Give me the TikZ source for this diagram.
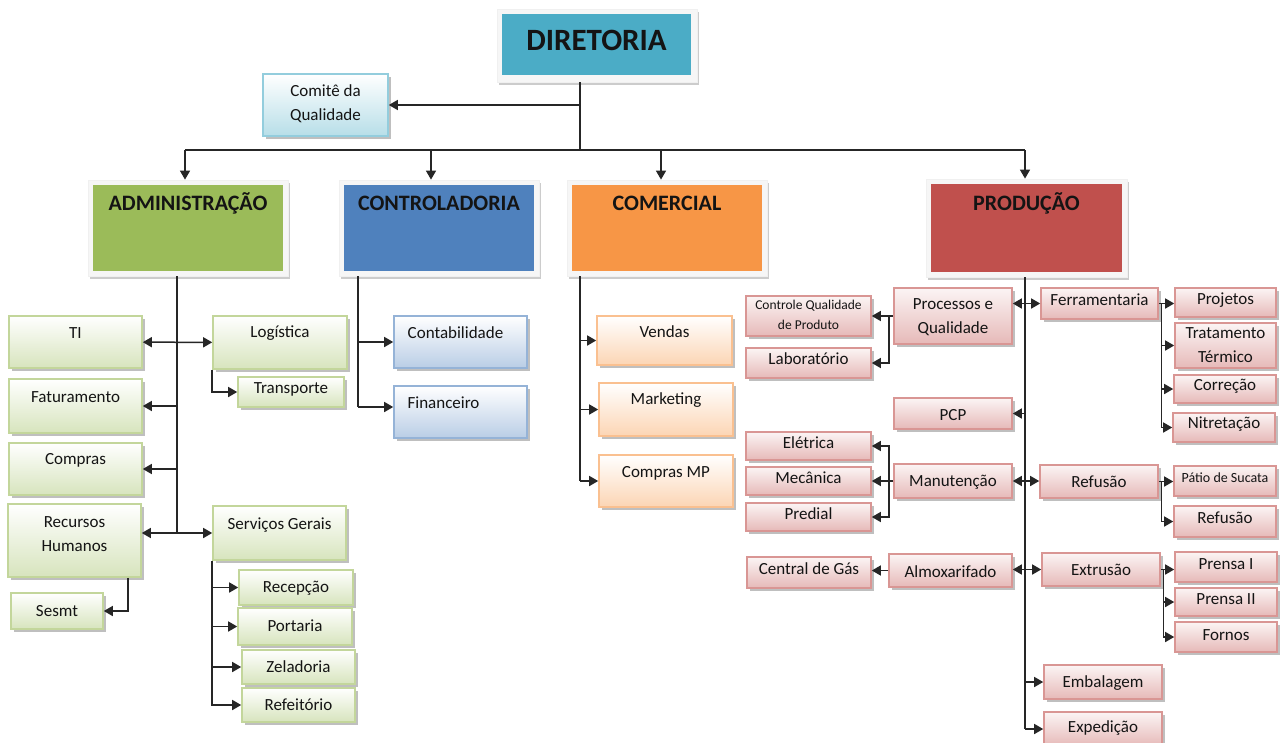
\documentclass[tikz,border=0pt]{standalone}
\usepackage{fontspec}
\setmainfont{Carlito}
\usetikzlibrary{arrows.meta,shadows,fit,calc}

\definecolor{dirC}{HTML}{4BACC6}
\definecolor{admC}{HTML}{9BBB59}
\definecolor{ctlC}{HTML}{4F81BD}
\definecolor{comC}{HTML}{F79646}
\definecolor{prdC}{HTML}{C0504D}
\definecolor{grnB}{HTML}{C3D69B}
\definecolor{grnF}{HTML}{D7E4BD}
\definecolor{bluB}{HTML}{95B3D7}
\definecolor{bluF}{HTML}{B9CDE5}
\definecolor{orgB}{HTML}{FAC090}
\definecolor{orgF}{HTML}{FCD5B4}
\definecolor{redB}{HTML}{D99694}
\definecolor{redF}{HTML}{E6B9B8}
\definecolor{cyaB}{HTML}{93CDDD}
\definecolor{cyaF}{HTML}{B7DEE8}

\tikzset{
  box/.style={inner sep=0pt, line width=1.6pt,
    drop shadow={shadow xshift=2.5pt, shadow yshift=-3pt, fill=black, opacity=.25}},
  gbox/.style={box, draw=grnB, top color=white, bottom color=grnF},
  bbox/.style={box, draw=bluB, top color=white, bottom color=bluF},
  obox/.style={box, draw=orgB, top color=white, bottom color=orgF},
  rbox/.style={box, draw=redB, top color=white!85!redF, bottom color=redF},
  cbox/.style={box, draw=cyaB, top color=white, bottom color=cyaF},
  hframe/.style={inner sep=0pt, fill=gray!7, draw=gray!12, line width=.8pt,
    drop shadow={shadow xshift=2pt, shadow yshift=-3pt, fill=black, opacity=.2}},
  hfill/.style={inner sep=0pt, fill=#1},
  txt/.style={inner sep=0pt, font=\fontsize{17}{24}\selectfont, text=black!92, align=center},
  small/.style={txt, font=\fontsize{13.5}{20}\selectfont},
  head/.style={inner sep=0pt, font=\bfseries\fontsize{22}{26}\selectfont, text=black!92},
  link/.style={line width=1.5pt, draw=black!85},
  arr/.style={link, -{Triangle[length=9pt,width=10pt]}},
  darr/.style={link, {Triangle[length=9pt,width=10pt]}-{Triangle[length=9pt,width=10pt]}},
}

% box: style, name, x1, y1, x2, y2, text style, text y, text
\newcommand\bx[9]{%
  \node[#1, fit={(#3,#4) (#5,#6)}] (#2) {};
  \node[#7] (#2-t) at (#2.center |- 0,#8) {#9};}

% header: colour, name, frame x1,y1,x2,y2, inset, text
\newcommand\hd[8]{%
  \node[hframe, fit={(#3,#4) (#5,#6)}] (#2f) {};
  \node[hfill=#1, fit={($(#3,#4)+(#7,#7)$) ($(#5,#6)+(-#7,-#7)$)}] (#2) {};
  \node[head] (#2-t) at (#2.center |- 0,203) {#8};}

\begin{document}
\begin{tikzpicture}[x=1pt,y=-1pt]
\fill[white] (0,0) rectangle (1281,742);
\useasboundingbox (0,0) rectangle (1281,742);

% ---------- top level ----------
\node[hframe, fit={(497,9) (697,82)}] (dirf) {};
\node[hfill=dirC, fit={(502,14) (691,75)}] (dir) {};
\node[head, font=\bfseries\fontsize{31}{36}\selectfont] (dir-t) at (dir.center |- 0,40) {DIRETORIA};

\bx{cbox}{comq}{263}{74}{388}{136}{txt}{104}{Comitê da\\Qualidade}

\hd{admC}{adm}{88}{180}{288}{276}{5}{ADMINISTRAÇÃO}
\hd{ctlC}{ctl}{339}{180}{539}{276}{5}{CONTROLADORIA}
\hd{comC}{com}{567}{180}{767}{276}{5}{COMERCIAL}
\hd{prdC}{prd}{926}{179}{1127}{277}{5}{PRODUÇÃO}

% ---------- administração ----------
\bx{gbox}{ti}{9}{316}{142}{368}{txt}{333}{TI}
\bx{gbox}{fat}{9}{379}{142}{433}{txt}{397}{Faturamento}
\bx{gbox}{cpr}{9}{443}{142}{495}{txt}{460}{Compras}
\bx{gbox}{rh}{8}{504}{141}{577}{txt}{534}{Recursos\\Humanos}
\bx{gbox}{ssm}{11}{593}{103}{629}{txt}{611}{Sesmt}
\bx{gbox}{log}{213}{316}{347}{369}{txt}{333}{Logística}
\bx{gbox}{trp}{238}{377}{344}{407}{txt}{389}{Transporte}
\bx{gbox}{sg}{213}{506}{346}{560}{txt}{525}{Serviços Gerais}
\bx{gbox}{rec}{239}{570}{353}{605}{txt}{588}{Recepção}
\bx{gbox}{por}{238}{608}{352}{645}{txt}{626}{Portaria}
\bx{gbox}{zel}{242}{650}{355}{684}{txt}{667}{Zeladoria}
\bx{gbox}{ref}{242}{688}{355}{722}{txt}{705}{Refeitório}

% ---------- controladoria ----------
\bx{bbox}{ctb}{394}{316}{527}{368}{txt,xshift=-5pt}{333}{Contabilidade}
\bx{bbox}{fin}{394}{386}{527}{438}{txt,xshift=-17pt}{403}{Financeiro}

% ---------- comercial ----------
\bx{obox}{ven}{597}{316}{732}{365}{txt}{332}{Vendas}
\bx{obox}{mkt}{599}{383}{733}{436}{txt}{400}{Marketing}
\bx{obox}{cmp}{599}{455}{733}{507}{txt}{473}{Compras MP}

% ---------- produção ----------
\bx{rbox}{pq}{894}{288}{1012}{344}{txt}{317}{Processos e\\Qualidade}
\bx{rbox}{cqp}{746}{296}{871}{336}{small}{315}{Controle Qualidade\\de Produto}
\bx{rbox}{lab}{746}{348}{871}{378}{txt}{359}{Laboratório}
\bx{rbox}{pcp}{894}{398}{1012}{429}{txt}{415}{PCP}
\bx{rbox}{fer}{1041}{288}{1158}{319}{txt}{300}{Ferramentaria}
\bx{rbox}{prj}{1175}{288}{1276}{317}{txt}{300}{Projetos}
\bx{rbox}{tt}{1175}{323}{1276}{368}{txt}{345}{Tratamento\\Térmico}
\bx{rbox}{cor}{1174}{375}{1276}{403}{txt}{386}{Correção}
\bx{rbox}{nit}{1173}{413}{1275}{442}{txt}{424}{Nitretação}
\bx{rbox}{ele}{746}{432}{871}{460}{txt}{443}{Elétrica}
\bx{rbox}{mec}{746}{467}{871}{495}{txt}{478}{Mecânica}
\bx{rbox}{pre}{746}{503}{871}{531}{txt}{514}{Predial}
\bx{rbox}{man}{894}{464}{1012}{498}{txt}{482}{Manutenção}
\bx{rbox}{rfs}{1040}{465}{1158}{498}{txt}{482}{Refusão}
\bx{rbox}{pat}{1174}{466}{1276}{496}{small,font=\fontsize{14}{18}\selectfont}{478}{Pátio de Sucata}
\bx{rbox}{rf2}{1174}{506}{1276}{537}{txt}{518}{Refusão}
\bx{rbox}{alm}{889}{554}{1012}{587}{txt}{572}{Almoxarifado}
\bx{rbox}{cgs}{747}{557}{871}{588}{txt}{569}{Central de Gás}
\bx{rbox}{ext}{1042}{553}{1160}{586}{txt}{570}{Extrusão}
\bx{rbox}{pr1}{1175}{552}{1277}{582}{txt}{564}{Prensa I}
\bx{rbox}{pr2}{1175}{588}{1277}{616}{txt}{599}{Prensa II}
\bx{rbox}{frn}{1175}{622}{1277}{652}{txt}{635}{Fornos}
\bx{rbox}{emb}{1044}{665}{1162}{699}{txt}{683}{Embalagem}
\bx{rbox}{exp}{1044}{712}{1162}{746}{txt}{728}{Expedição}

% ---------- connectors: top ----------
\coordinate (dT) at (580,150);
\coordinate (b1) at (185,150);
\coordinate (b2) at (431,150);
\coordinate (b3) at (661,150);
\coordinate (b4) at (1025,150);
\draw[link] (dirf.south -| dT) -- (dT);
\draw[arr] (comq.east -| dT) -- (comq.east);
\draw[link] (b1) -- (b4);
\draw[arr] (b1) -- (b1 |- admf.north);
\draw[arr] (b2) -- (b2 |- ctlf.north);
\draw[arr] (b3) -- (b3 |- comf.north);
\draw[arr] (b4) -- (b4 |- prdf.north);

% ---------- connectors: administração ----------
\coordinate (aT) at (177,0);
\draw[link] (aT |- admf.south) -- (aT |- sg.west);
\draw[darr] (ti) -- (log);
\draw[arr] (fat.east -| aT) -- (fat.east);
\draw[arr] (cpr.east -| aT) -- (cpr.east);
\draw[darr] (rh.east |- sg.west) -- (sg.west);
\draw[arr] (log.south west) |- (trp.west);
\draw[arr] ([xshift=-14pt]rh.south east) |- (ssm.east);
\draw[arr] (sg.south west) |- (rec.west);
\draw[arr] (sg.south west) |- (por.west);
\draw[arr] (sg.south west) |- (zel.west);
\draw[arr] (sg.south west) |- (ref.west);

% ---------- connectors: controladoria ----------
\coordinate (cT) at (358,407);
\draw[link] (cT |- ctlf.south) -- (cT);
\draw[arr] (ctb.west -| cT) -- (ctb.west);
\draw[arr] (cT) -- (cT -| fin.west);

% ---------- connectors: comercial ----------
\coordinate (mT) at (580,0);
\draw[link] (mT |- comf.south) -- (mT |- cmp.west);
\draw[arr] (ven.west -| mT) -- (ven.west);
\draw[arr] (mkt.west -| mT) -- (mkt.west);
\draw[arr] (cmp.west -| mT) -- (cmp.west);

% ---------- connectors: produção ----------
\coordinate (pT) at (1025,0);
\draw[link] (pT |- prdf.south) -- (pT |- exp.west);
\draw[darr] (pq.east |- fer.west) -- (fer.west);
\draw[arr] (pcp.east -| pT) -- (pcp.east);
\draw[darr] (man) -- (man -| rfs.west);
\draw[darr] (alm.east |- ext.west) -- (ext.west);
\draw[arr] (emb.west -| pT) -- (emb.west);
\draw[arr] (exp.west -| pT) -- (exp.west);

\coordinate (pqj) at ([xshift=-4pt]pq.west);
\draw[arr] (pq.west) -- (pq.west -| cqp.east);
\draw[arr] (pqj) |- (lab.east);

\coordinate (mj) at ([xshift=-4pt]man.west);
\draw[arr] (man.west) -- (man.west -| mec.east);
\draw[arr] (mj) |- (ele.east);
\draw[arr] (mj) |- (pre.east);
\draw[arr] (alm.west) -- (alm.west -| cgs.east);

\coordinate (fj) at ([xshift=2.5pt]fer.east);
\draw[arr] (fer.east) -- (fer.east -| prj.west);
\draw[arr] (fj) |- (tt.west);
\draw[arr] (fj) |- (cor.west);
\draw[arr] (fj) |- (nit.west);

\coordinate (rj) at ([xshift=2.5pt]rfs.east);
\draw[arr] (rfs.east) -- (rfs.east -| pat.west);
\draw[arr] (rj) |- (rf2.west);

\coordinate (ej) at ([xshift=2.5pt]ext.east);
\draw[arr] (ext.east) -- (ext.east -| pr1.west);
\draw[arr] (ej) |- (pr2.west);
\draw[arr] (ej) |- (frn.west);
\end{tikzpicture}
\end{document}
